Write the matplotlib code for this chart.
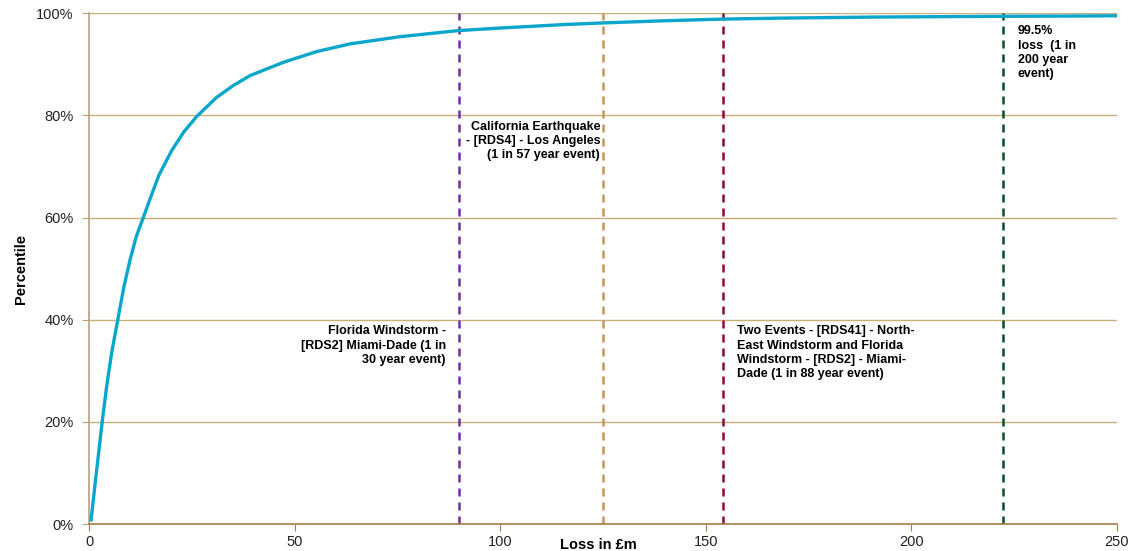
import matplotlib.pyplot as plt
from matplotlib.ticker import FuncFormatter

plt.rcParams['font.family'] = ['Liberation Sans', 'DejaVu Sans']

# loss (GBP m) vs percentile of the loss distribution
loss = [0.5, 1.5, 3.2, 4.3, 5.5, 7.0, 8.5, 10.0, 11.5, 13.2, 15.0, 17.0, 20.1, 23.0, 26.2,
        31.0, 35.0, 39.2, 47.3, 55.4, 63.5, 75.6, 89.8, 100, 116, 125, 139, 154,
        169, 191, 212, 222, 240, 250]
percentile = [0.8, 8.0, 20.0, 27.0, 33.5, 40.0, 46.5, 51.8, 56.3, 60.0, 64.0, 68.3, 73.1, 76.7, 79.8,
              83.5, 85.8, 87.8, 90.4, 92.5, 94.0, 95.4, 96.6, 97.1, 97.8, 98.1, 98.5, 98.85,
              99.05, 99.25, 99.35, 99.4, 99.45, 99.5]

# scenario markers
event_x = [90, 125, 154.2, 222.3]
event_colors = ['#7030a0', '#c4975a', '#8b0a3c', '#0b4d2a']
event_labels = [
    'Florida Windstorm -\n[RDS2] Miami-Dade (1 in\n30 year event)',
    'California Earthquake\n- [RDS4] - Los Angeles\n(1 in 57 year event)',
    'Two Events - [RDS41] - North-\nEast Windstorm and Florida\nWindstorm - [RDS2] - Miami-\nDade (1 in 88 year event)',
    '99.5%\nloss  (1 in\n200 year\nevent)',
]

fig = plt.figure(figsize=(11.34, 5.51), dpi=100)
ax = fig.add_axes([0.0785, 0.049, 0.9065, 0.927])

grid_color = '#c9ae7c'
for v in [20, 40, 60, 80, 100]:
    ax.axhline(v, color=grid_color, lw=1, zorder=1)

ax.plot(loss, percentile, color='#0aa6cc', lw=2.4, zorder=3)

for x, c in zip(event_x, event_colors):
    ax.axvline(x, color=c, lw=1.8, dashes=(3.2, 2.4), zorder=2)

# annotation text (axis-data coordinates)
kw = dict(va='top', fontsize=9, fontweight='bold', linespacing=1.25)
ax.text(86.8, 38.9, event_labels[0], ha='right', **kw)
ax.text(124.3, 78.9, event_labels[1], ha='right', **kw)
ax.text(157.6, 38.9, event_labels[2], ha='left', **kw)
ax.text(225.9, 97.6, event_labels[3], ha='left', **kw)

ax.set_xlim(0, 250)
ax.set_ylim(0, 100)
ax.set_xticks([0, 50, 100, 150, 200, 250])
ax.set_yticks([0, 20, 40, 60, 80, 100])
ax.yaxis.set_major_formatter(FuncFormatter(lambda v, p: f'{v:.0f}%'))

for s in ['top', 'right']:
    ax.spines[s].set_visible(False)
ax.spines['left'].set_color('#b7a07e')
ax.spines['bottom'].set_color('#a57c45')
ax.spines['left'].set_linewidth(1.2)
ax.spines['bottom'].set_linewidth(1.2)
ax.tick_params(axis='y', colors='#b7a07e', labelcolor='#222222', length=5, labelsize=10.5, pad=6)
ax.tick_params(axis='x', colors='#a57c45', labelcolor='#222222', length=5, labelsize=10.5, pad=3)

# x label sits on the tick-label row, as in the original
fig.text(598 / 1134, 1 - 545 / 551, 'Loss in £m', ha='center', va='center',
         fontsize=10.5, fontweight='bold')
ax.set_ylabel('Percentile', fontsize=10.5, fontweight='bold', labelpad=6)

fig.savefig('out.png', dpi=100)
